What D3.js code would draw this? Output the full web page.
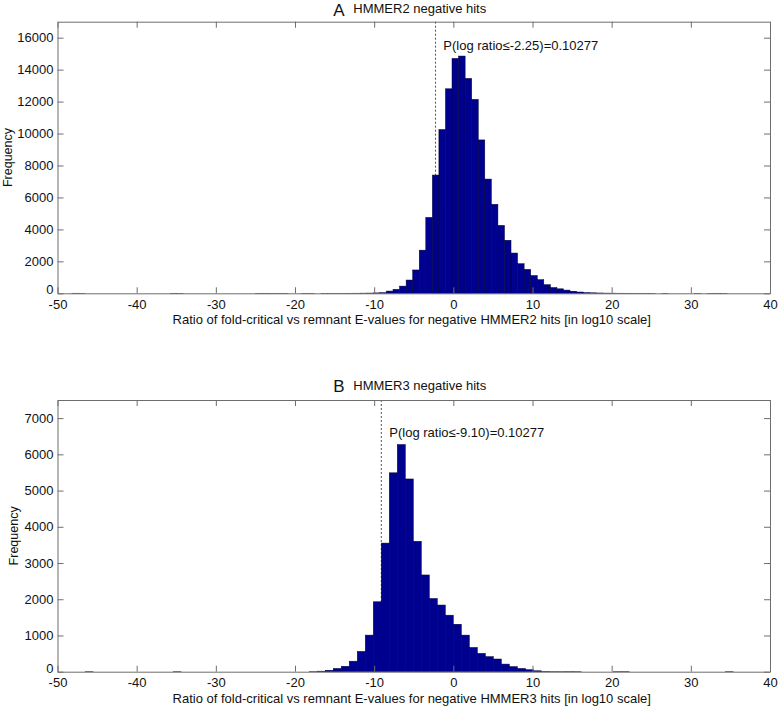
<!DOCTYPE html>
<html>
<head>
<meta charset="utf-8">
<script src="https://cdn.jsdelivr.net/npm/d3@7/dist/d3.min.js"></script>
<style>
  html, body { margin: 0; padding: 0; background: #fff; }
  svg { display: block; font-family: "Liberation Sans", Arial, sans-serif; }
</style>
</head>
<body>
<svg id="chart" width="778" height="706"></svg>
<script>
// ---------- DATA ----------
const xTicks = [-50, -40, -30, -20, -10, 0, 10, 20, 30, 40];

// Panel A: HMMER2 negative hits (100 bins)
const h2BinStart = -48.19;
const h2BinWidth = 0.828;
const h2Counts = [
  5,3,0,0,0,0,0,0,0,0,
  0,0,0,0,0,4,3,0,0,0,
  0,0,0,0,0,0,0,0,3,4,
  2,3,2,0,0,1,1,0,1,2,
  2,3,4,6,10,15,25,40,140,250,
  450,830,1460,2700,4750,7400,10250,12800,14700,14850,
  13450,12140,9600,7150,5570,4250,3320,2520,1850,1500,
  1110,850,540,360,280,200,130,80,45,30,
  20,12,8,5,4,3,2,1,1,0,
  1,0,0,0,0,1,0,2,4,2
];
const h2YTicks = [0, 2000, 4000, 6000, 8000, 10000, 12000, 14000, 16000];
const h2YMax = 17000;
const h2Cut = -2.25;
const h2Label = "P(log ratio\u2264-2.25)=0.10277";

// Panel B: HMMER3 negative hits
const h3BinStart = -47.52;
const h3BinWidth = 1.011;
const h3Counts = [
  0,3,0,0,0,0,0,0,0,0,
  0,0,2,0,0,0,0,0,0,0,
  0,0,0,0,0,0,0,0,0,4,
  15,40,90,150,290,560,1010,1930,3550,5490,
  6270,5320,3600,2670,2020,1840,1560,1310,1010,670,
  505,415,350,210,140,90,55,25,10,3,
  2,5,2,0,0,0,0,3,3,0,
  0,0,0,0,0,0,0,0,0,0,
  0,3,0
];
const h3YTicks = [0, 1000, 2000, 3000, 4000, 5000, 6000, 7000];
const h3YMax = 7500;
const h3Cut = -9.10;
const h3Label = "P(log ratio\u2264-9.10)=0.10277";

const panels = [
  { letter: "A", title: "HMMER2 negative hits", counts: h2Counts, start: h2BinStart, width: h2BinWidth,
    yTicks: h2YTicks, yMax: h2YMax, cut: h2Cut, label: h2Label,
    xlabel: "Ratio of fold-critical vs remnant E-values for negative HMMER2 hits [in log10 scale]",
    top: 21.7, bottom: 293.3, letterY: 15.5, titleY: 12.5, labelPos: [443.3, 49.5], ylabX: 11.5 },
  { letter: "B", title: "HMMER3 negative hits", counts: h3Counts, start: h3BinStart, width: h3BinWidth,
    yTicks: h3YTicks, yMax: h3YMax, cut: h3Cut, label: h3Label,
    xlabel: "Ratio of fold-critical vs remnant E-values for negative HMMER3 hits [in log10 scale]",
    top: 400, bottom: 671.7, letterY: 391.5, titleY: 389.5, labelPos: [389.3, 437.3], ylabX: 18 }
];

// ---------- DRAW ----------
const svg = d3.select("#chart");
const left = 57.5, right = 770;
const axisColor = "#6e6e6e";

panels.forEach(p => {
  const x = d3.scaleLinear().domain([-50, 40]).range([left, right]);
  const y = d3.scaleLinear().domain([0, p.yMax]).range([p.bottom, p.top]);
  const g = svg.append("g");

  // dashed cut line (behind bars)
  g.append("line")
    .attr("x1", x(p.cut)).attr("x2", x(p.cut))
    .attr("y1", y(p.yMax)).attr("y2", y(0))
    .attr("stroke", "#555").attr("stroke-width", 1)
    .attr("stroke-dasharray", "2,2");

  // bars
  const bins = p.counts.map((c, i) => ({ x0: p.start + i * p.width, x1: p.start + (i + 1) * p.width, c }))
                       .filter(d => d.c > 0);
  g.selectAll("rect.bar").data(bins).enter().append("rect")
    .attr("class", "bar")
    .attr("x", d => x(d.x0))
    .attr("width", d => x(d.x1) - x(d.x0))
    .attr("y", d => y(d.c))
    .attr("height", d => y(0) - y(d.c))
    .attr("fill", "#00008f")
    .attr("stroke", "#000033")
    .attr("stroke-width", 0.5);

  // axes
  const fontSize = "13px";
  const bottomAxis = g.append("g").attr("transform", `translate(0,${p.bottom})`)
    .call(d3.axisBottom(x).tickValues(xTicks).tickSize(-6).tickSizeOuter(0).tickPadding(6.5).tickFormat(d3.format("d")));
  const topAxis = g.append("g").attr("transform", `translate(0,${p.top})`)
    .call(d3.axisTop(x).tickValues(xTicks).tickSize(-6).tickSizeOuter(0).tickFormat(""));
  const leftAxis = g.append("g").attr("transform", `translate(${left},0)`)
    .call(d3.axisLeft(y).tickValues(p.yTicks).tickSize(-6).tickSizeOuter(0).tickPadding(4).tickFormat(d3.format("d")));
  const rightAxis = g.append("g").attr("transform", `translate(${right},0)`)
    .call(d3.axisRight(y).tickValues(p.yTicks).tickSize(-6).tickSizeOuter(0).tickFormat(""));

  [bottomAxis, topAxis, leftAxis, rightAxis].forEach(a => {
    a.select(".domain").attr("stroke", axisColor).attr("stroke-width", 1);
    a.selectAll(".tick line").attr("stroke", axisColor).attr("stroke-width", 1);
    a.selectAll("text").attr("fill", "#111").style("font-size", fontSize)
      .style("font-family", '"Liberation Sans", Arial, sans-serif');
  });
  // plain hyphen minus as in reference
  bottomAxis.selectAll(".tick text").text(d => String(d));
  // lift the zero label a little so it does not collide with the x tick label
  leftAxis.selectAll(".tick text").filter(d => d === 0).attr("dy", "0.05em");

  // title
  g.append("text").attr("x", 333.3).attr("y", p.letterY)
    .attr("font-size", "17px").attr("fill", "#111").text(p.letter);
  g.append("text").attr("x", 353.3).attr("y", p.titleY)
    .attr("font-size", "13px").attr("fill", "#111").text(p.title);

  // annotation
  g.append("text").attr("x", p.labelPos[0]).attr("y", p.labelPos[1])
    .attr("font-size", "13px").attr("fill", "#111").text(p.label);

  // x label
  g.append("text").attr("x", (left + right) / 2 - 2).attr("y", p.bottom + 31)
    .attr("text-anchor", "middle").attr("font-size", "13px").attr("fill", "#111").text(p.xlabel);

  // y label
  g.append("text")
    .attr("transform", `translate(${p.ylabX},${(p.top + p.bottom) / 2}) rotate(-90)`)
    .attr("text-anchor", "middle").attr("font-size", "12.5px").attr("fill", "#111").text("Frequency");
});
</script>
</body>
</html>
